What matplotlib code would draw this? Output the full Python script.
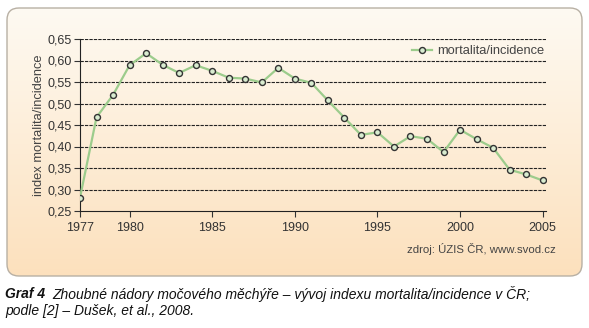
import numpy as np
import matplotlib.pyplot as plt
from matplotlib.patches import FancyBboxPatch
from matplotlib.ticker import FuncFormatter

plt.rcParams['font.family'] = ['Liberation Sans', 'DejaVu Sans']

years = list(range(1977, 2006))
index = [0.281, 0.468, 0.520, 0.589, 0.617, 0.590, 0.571, 0.589, 0.576, 0.560,
         0.558, 0.549, 0.583, 0.558, 0.548, 0.507, 0.467, 0.427, 0.433, 0.400,
         0.424, 0.418, 0.387, 0.439, 0.417, 0.397, 0.346, 0.335, 0.321]
xticks = [1977, 1980, 1985, 1990, 1995, 2000, 2005]
yticks = [0.25, 0.30, 0.35, 0.40, 0.45, 0.50, 0.55, 0.60, 0.65]

W, H = 589, 328
fig = plt.figure(figsize=(W / 100, H / 100), dpi=100)

# background panel with gradient
bg = fig.add_axes([0, 0, 1, 1], zorder=-1)
bg.set_xlim(0, W)
bg.set_ylim(H, 0)
bg.axis('off')
panel = FancyBboxPatch((7, 8), 575, 268, boxstyle='round,pad=0,rounding_size=12',
                       fc='none', ec='#b8b0a4', lw=1.0)
bg.add_patch(panel)
top = np.array([0.995, 0.98, 0.95])
bot = np.array([0.99, 0.88, 0.74])
t = np.linspace(0, 1, 256)[:, None]
grad = (top * (1 - t) + bot * t)[:, None, :]
im = bg.imshow(grad, extent=(7, 582, 276, 8), aspect='auto', interpolation='bilinear')
im.set_clip_path(panel)

ax = fig.add_axes([80 / W, 1 - 211 / H, 466 / W, 172 / H])
ax.patch.set_alpha(0)
ax.set_xlim(1977, 2005.2)
ax.set_ylim(0.25, 0.65)
for y in yticks[1:]:
    ax.axhline(y, color='#222222', lw=0.8, ls=(0, (3, 1)), zorder=1)
ax.plot(years, index, color='#9ccc8c', lw=1.6, marker='o', ms=4.3,
        mfc='#d9ecd0', mec='#333333', mew=1.0, zorder=3, label='mortalita/incidence')

ax.set_xticks(xticks)
ax.set_yticks(yticks)
ax.yaxis.set_major_formatter(FuncFormatter(lambda v, p: f'{v:.2f}'.replace('.', ',')))
ax.tick_params(labelsize=9, colors='#333333', length=4, width=0.8, pad=2)
ax.tick_params(axis='x', pad=4)
for s in ['top', 'right']:
    ax.spines[s].set_visible(False)
for s in ['left', 'bottom']:
    ax.spines[s].set_color('#222222')
    ax.spines[s].set_linewidth(0.8)
ax.set_ylabel('index mortalita/incidence', fontsize=9.3, color='#444444', labelpad=2)

leg = ax.legend(loc='upper right', bbox_to_anchor=(1.0, 0.97), frameon=False,
                fontsize=9.3, handlelength=1.5, handletextpad=0.45, borderaxespad=0,
                borderpad=0.1)
for txt in leg.get_texts():
    txt.set_color('#444444')

fig.text(556 / W, 1 - 249 / H, 'zdroj: ÚZIS ČR, www.svod.cz', ha='right', va='center',
         fontsize=8.2, color='#444444')

fig.text(5 / W, 1 - 294 / H, 'Graf 4', fontsize=10, fontweight='bold', fontstyle='italic',
         va='center', ha='left', color='#111111')
fig.text(52 / W, 1 - 294 / H, 'Zhoubné nádory močového měchýře – vývoj indexu mortalita/incidence v ČR;',
         fontsize=10, fontstyle='italic', va='center', ha='left', color='#111111')
fig.text(5 / W, 1 - 311 / H, 'podle [2] – Dušek, et al., 2008.', fontsize=10,
         fontstyle='italic', va='center', ha='left', color='#111111')

fig.savefig('out.png', dpi=100)
